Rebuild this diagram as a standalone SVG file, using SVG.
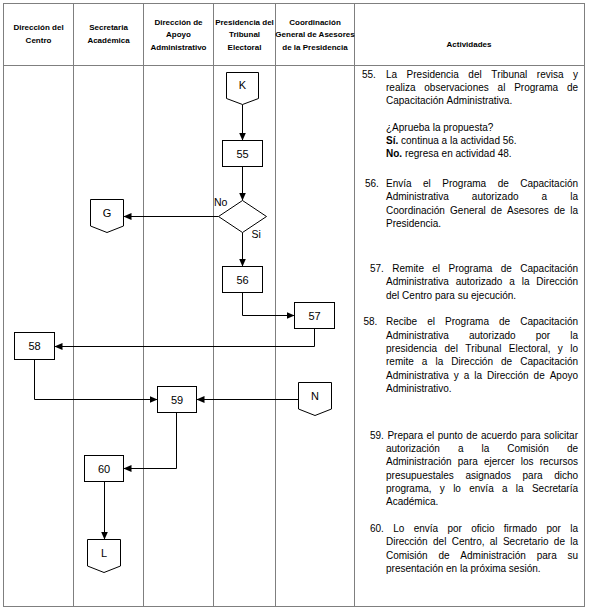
<svg xmlns="http://www.w3.org/2000/svg" width="590" height="613" viewBox="0 0 590 613">
<style>
.grid{stroke:#7f7f7f;stroke-width:1;fill:none}
.hdr{font-family:"Liberation Sans",Arial,sans-serif;font-weight:bold;font-size:8px;text-anchor:middle;fill:#000}
.act{font-family:"Liberation Sans",Arial,sans-serif;font-size:10px;font-kerning:none;fill:#000}
.node{fill:#fff;stroke:#000;stroke-width:1}
.lbl{font-family:"Liberation Sans",Arial,sans-serif;font-size:11px;text-anchor:middle;fill:#000}
.yn{font-family:"Liberation Sans",Arial,sans-serif;font-size:10.5px;fill:#000}
.conn{stroke:#000;stroke-width:1;fill:none;marker-end:url(#arr)}
</style>
<defs>
<marker id="arr" markerUnits="userSpaceOnUse" markerWidth="8" markerHeight="7" refX="8" refY="3.5" orient="auto">
<path d="M0,0 L8,3.5 L0,7 z" fill="#000"/>
</marker>
</defs>
<rect width="590" height="613" fill="#fff"/>
<g id="table">
<rect class="grid" x="3.5" y="3.5" width="581" height="603"/>
<line class="grid" x1="3.5" y1="65.5" x2="584.5" y2="65.5"/>
<line class="grid" x1="73.5" y1="3.5" x2="73.5" y2="606.5"/>
<line class="grid" x1="143.5" y1="3.5" x2="143.5" y2="606.5"/>
<line class="grid" x1="213.5" y1="3.5" x2="213.5" y2="606.5"/>
<line class="grid" x1="275.5" y1="3.5" x2="275.5" y2="606.5"/>
<line class="grid" x1="354.5" y1="3.5" x2="354.5" y2="606.5"/>
<text class="hdr" x="38.5" y="30">Dirección del</text>
<text class="hdr" x="38.5" y="43">Centro</text>
<text class="hdr" x="108.5" y="30">Secretaria</text>
<text class="hdr" x="108.5" y="43">Académica</text>
<text class="hdr" x="178.5" y="24.5">Dirección de</text>
<text class="hdr" x="178.5" y="37">Apoyo</text>
<text class="hdr" x="178.5" y="49.5">Administrativo</text>
<text class="hdr" x="244.5" y="24.5">Presidencia del</text>
<text class="hdr" x="244.5" y="37">Tribunal</text>
<text class="hdr" x="244.5" y="49.5">Electoral</text>
<text class="hdr" x="315" y="24.5">Coordinación</text>
<text class="hdr" x="315" y="37">General de Asesores</text>
<text class="hdr" x="315" y="49.5">de la Presidencia</text>
<text class="hdr" x="469" y="46.5">Actividades</text>
</g>
<g id="connectors">
<line class="conn" x1="242.5" y1="104.5" x2="242.5" y2="140.5"/>
<line class="conn" x1="242.5" y1="166.5" x2="242.5" y2="200.5"/>
<line class="conn" x1="218.5" y1="216.5" x2="123.5" y2="216.5"/>
<line class="conn" x1="242.5" y1="232.5" x2="242.5" y2="266.5"/>
<polyline class="conn" points="242.5,292.5 242.5,315.5 294.5,315.5"/>
<polyline class="conn" points="314.5,328.5 314.5,346.5 54.5,346.5"/>
<polyline class="conn" points="34.5,359.5 34.5,399.5 157.5,399.5"/>
<line class="conn" x1="298.5" y1="399.5" x2="196.5" y2="399.5"/>
<polyline class="conn" points="176.5,412.5 176.5,468.5 123.5,468.5"/>
<line class="conn" x1="104.5" y1="481.5" x2="104.5" y2="539.5"/>
</g>
<g id="node-K">
<path class="node" d="M226.5,72.5 H258.5 V98.5 L242.5,104.5 L226.5,98.5 Z"/>
<text class="lbl" x="242.5" y="89">K</text>
</g>
<g id="node-55">
<rect class="node" x="222.5" y="140.5" width="40" height="26"/>
<text class="lbl" x="242.5" y="157.5">55</text>
</g>
<g id="node-decision">
<path class="node" d="M242.5,200.5 L266.5,216.5 L242.5,232.5 L218.5,216.5 Z"/>
<text class="yn" x="214" y="206">No</text>
<text class="yn" x="251.5" y="237.5">Si</text>
</g>
<g id="node-G">
<path class="node" d="M90.5,199.5 H123.5 V226 L107,232.5 L90.5,226 Z" stroke="#888"/>
<text class="lbl" x="107" y="217">G</text>
</g>
<g id="node-56">
<rect class="node" x="222.5" y="266.5" width="40" height="26"/>
<text class="lbl" x="242.5" y="283.5">56</text>
</g>
<g id="node-57">
<rect class="node" x="294.5" y="302.5" width="40" height="26"/>
<text class="lbl" x="314.5" y="319.5">57</text>
</g>
<g id="node-58">
<rect class="node" x="14.5" y="332.5" width="40" height="27"/>
<text class="lbl" x="34.5" y="350">58</text>
</g>
<g id="node-N">
<path class="node" d="M298.5,382.5 H331.5 V409 L315,415.5 L298.5,409 Z"/>
<text class="lbl" x="315" y="400">N</text>
</g>
<g id="node-59">
<rect class="node" x="157.5" y="386.5" width="39" height="26"/>
<text class="lbl" x="177" y="403.5">59</text>
</g>
<g id="node-60">
<rect class="node" x="84.5" y="455.5" width="39" height="26"/>
<text class="lbl" x="104" y="472.5">60</text>
</g>
<g id="node-L">
<path class="node" d="M87.5,539.5 H120.5 V566 L104,572.5 L87.5,566 Z"/>
<text class="lbl" x="104" y="557">L</text>
</g>
<g id="activities">
<text class="act" x="362" y="77.5">55.</text>
<text class="act" x="386" y="77.5" word-spacing="6.72">La Presidencia del Tribunal revisa y</text>
<text class="act" x="386" y="90.8" word-spacing="6.04">realiza observaciones al Programa de</text>
<text class="act" x="386" y="104.1">Capacitación Administrativa.</text>
<text class="act" x="386" y="130.8">¿Aprueba la propuesta?</text>
<text class="act" x="386" y="144.1"><tspan font-weight="bold">Sí.</tspan> continua a la actividad 56.</text>
<text class="act" x="386" y="157.4"><tspan font-weight="bold">No.</tspan> regresa en actividad 48.</text>

<text class="act" x="365" y="187">56.</text>
<text class="act" x="386" y="187" word-spacing="8.68">Envía el Programa de Capacitación</text>
<text class="act" x="386" y="200.3" word-spacing="20.28">Administrativa autorizado a la</text>
<text class="act" x="386" y="213.6" word-spacing="2.38">Coordinación General de Asesores de la</text>
<text class="act" x="386" y="226.9">Presidencia.</text>

<text class="act" x="370" y="272" word-spacing="5.59">57. Remite el Programa de Capacitación</text>
<text class="act" x="386" y="285.3" word-spacing="4.10">Administrativa autorizado a la Dirección</text>
<text class="act" x="386" y="298.6">del Centro para su ejecución.</text>

<text class="act" x="363.5" y="325.3">58.</text>
<text class="act" x="386" y="325.3" word-spacing="7.29">Recibe el Programa de Capacitación</text>
<text class="act" x="386" y="338.6" word-spacing="17.32">Administrativa autorizado por la</text>
<text class="act" x="386" y="351.9" word-spacing="4.61">presidencia del Tribunal Electoral, y lo</text>
<text class="act" x="386" y="365.2" word-spacing="5.28">remite a la Dirección de Capacitación</text>
<text class="act" x="386" y="378.5" word-spacing="2.18">Administrativa y a la Dirección de Apoyo</text>
<text class="act" x="386" y="391.8">Administrativo.</text>

<text class="act" x="370" y="438.6" word-spacing="0.73">59. Prepara el punto de acuerdo para solicitar</text>
<text class="act" x="386" y="451.9" word-spacing="15.21">autorización a la Comisión de</text>
<text class="act" x="386" y="465.2" word-spacing="3.41">Administración para ejercer los recursos</text>
<text class="act" x="386" y="478.5" word-spacing="8.79">presupuestales asignados para dicho</text>
<text class="act" x="386" y="491.8" word-spacing="5.51">programa, y lo envía a la Secretaría</text>
<text class="act" x="386" y="505.1">Académica.</text>

<text class="act" x="370" y="532" word-spacing="6.53">60. Lo envía por oficio firmado por la</text>
<text class="act" x="386" y="545.3" word-spacing="2.55">Dirección del Centro, al Secretario de la</text>
<text class="act" x="386" y="558.6" word-spacing="7.99">Comisión de Administración para su</text>
<text class="act" x="386" y="571.9">presentación en la próxima sesión.</text>
</g>
</svg>
